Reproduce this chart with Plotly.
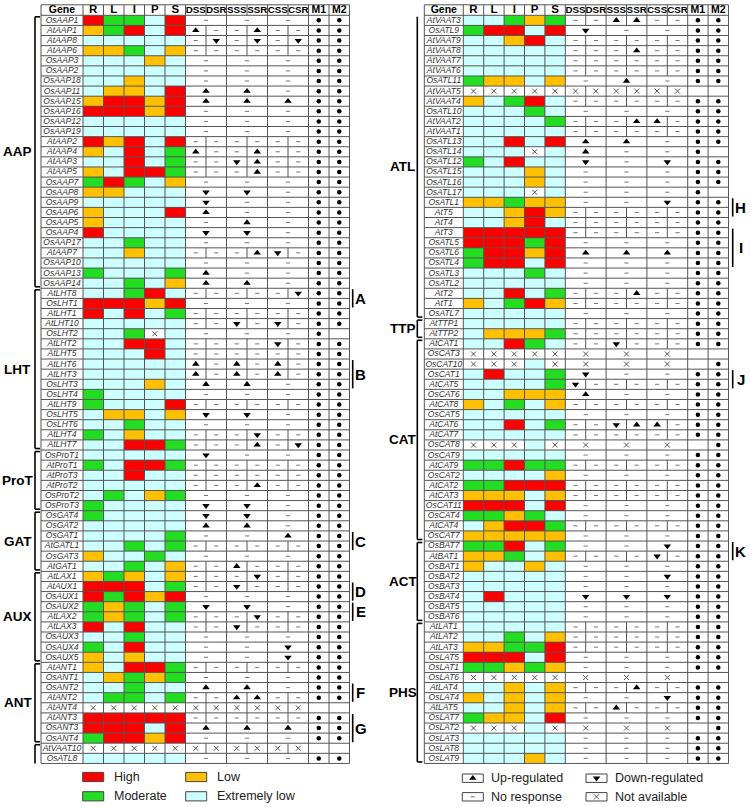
import plotly.graph_objects as go

# ------------------------------------------------------------------ data
columns = ["R", "L", "I", "P", "S", "DSS", "DSR", "SSS", "SSR", "CSS", "CSR", "M1", "M2"]

left_genes = [
    "OsAAP1", "AtAAP1", "AtAAP8", "AtAAP6", "OsAAP3", "OsAAP2", "OsAAP18", "OsAAP11", "OsAAP15",
    "OsAAP16", "OsAAP12", "OsAAP19", "AtAAP2", "AtAAP4", "AtAAP3", "AtAAP5", "OsAAP7", "OsAAP8",
    "OsAAP9", "OsAAP6", "OsAAP5", "OsAAP4", "OsAAP17", "AtAAP7", "OsAAP10", "OsAAP13", "OsAAP14",
    "AtLHT8", "OsLHT1", "AtLHT1", "AtLHT10", "OsLHT2", "AtLHT2", "AtLHT5", "AtLHT6", "AtLHT3",
    "OsLHT3", "OsLHT4", "AtLHT9", "OsLHT5", "OsLHT6", "AtLHT4", "AtLHT7",
    "OsProT1", "AtProT1", "AtProT3", "AtProT2", "OsProT2", "OsProT3",
    "OsGAT4", "OsGAT2", "OsGAT1", "AtGATL1", "OsGAT3", "AtGAT1",
    "AtLAX1", "AtAUX1", "OsAUX1", "OsAUX2", "AtLAX2", "AtLAX3", "OsAUX3", "OsAUX4", "OsAUX5",
    "AtANT1", "OsANT1", "OsANT2", "AtANT2", "AtANT4", "AtANT3", "OsANT3", "OsANT4",
    "AtVAAT10", "OsATL8"]
# expression in R, L, I, P, S  (H high, M moderate, L low, E extremely low, X not available)
left_expr = [
    "HMMEH", "LMHEH", "EEEEE", "LLMEL", "EEELE", "EEEEE", "EELEE", "ELLEH", "LHHLH",
    "HHHLH", "EEEEE", "EEEEE", "HLHEH", "LEHEM", "EEHEM", "LEHHM", "MHMEL", "LLEEE",
    "EEEEE", "LEEEH", "LEEEE", "HEEEE", "EEMEE", "EELEE", "EEEEE", "MEEEM", "EEMEL",
    "EEMHE", "HHHLH", "HEHEM", "EEEEE", "EEMXE", "EEHHE", "EEEHE", "EEEEE", "EEEEE",
    "EEELE", "MEEEE", "MEEEH", "ELLEL", "EEMEE", "MELEE", "EEHHM",
    "EEEEE", "MEHHM", "EEHEE", "EEEEE", "EMELM", "MEEEE",
    "MEEEE", "EEEEE", "EEEEM", "EEMEM", "LEEME", "EEMEL",
    "LMLEL", "HHHEM", "HMHLH", "MLMEM", "MLMEM", "HEHEE", "EEMEE", "MEHEE", "LELEE",
    "LEHHM", "ELMLM", "EEMEE", "EMMEM", "XXXXX", "HHHHH", "HHHEH", "MHHLH",
    "XXXXX", "EEEEE"]
# stress response (u up, d down, n none, x n/a); 3 values = merged rice cells, 6 = Arabidopsis
left_stress = [
    "nnn", "unnunn", "ndndnd", "nnnnnn", "nnn", "nnn", "nnn", "uun", "uuu",
    "nnn", "nnn", "nnn", "nnnnnn", "unnunn", "nndunn", "nnnunn", "nnn", "ddn",
    "dnn", "unn", "nun", "ddn", "nnn", "nnnudn", "nnn", "unn", "uun",
    "nnnnnd", "nnn", "nnnnnn", "nndndn", "nnn", "nnnndn", "nnnnnn", "ununun", "ununun",
    "uun", "nnn", "nnnnnn", "ddn", "nnn", "nnndnn", "nnnund",
    "dnn", "nnnnnn", "nnnnnn", "nnnunn", "nnn", "ddn",
    "ddn", "uun", "nnu", "nnnnnn", "nnn", "nnunnn",
    "nnndnn", "nndnnn", "nnn", "ddn", "nnndnn", "nndnnn", "nnn", "nnd", "nnd",
    "nnnnnn", "nnn", "uun", "nnuunn", "xxxxxx", "nnnnnn", "uuu", "nnn",
    "xxxxxx", "nnn"]
left_motif = {"OsLHT2": "10", "AtANT4": "00", "AtVAAT10": "00"}   # others "11"
left_group_names = ["AAP", "LHT", "ProT", "GAT", "AUX", "ANT", ""]
left_group_sizes = [27, 16, 6, 6, 9, 8, 2]
left_marks = [("A", "AtLHT8", 2), ("B", "AtLHT6", 3), ("C", "OsGAT1", 2), ("D", "AtAUX1", 2),
              ("E", "OsAUX2", 2), ("F", "OsANT2", 2), ("G", "AtANT3", 3)]

right_genes = [
    "AtVAAT3", "OsATL9", "AtVAAT9", "AtVAAT8", "AtVAAT7", "AtVAAT6", "OsATL11", "AtVAAT5",
    "AtVAAT4", "OsATL10", "AtVAAT2", "AtVAAT1", "OsATL13", "OsATL14", "OsATL12", "OsATL15",
    "OsATL16", "OsATL17", "OsATL1", "AtT5", "AtT4", "AtT3", "OsATL5", "OsATL6", "OsATL4",
    "OsATL3", "OsATL2", "AtT2", "AtT1", "OsATL7",
    "AtTTP1", "AtTTP2",
    "AtCAT1", "OsCAT3", "OsCAT10", "OsCAT1", "AtCAT5", "OsCAT6", "AtCAT8", "OsCAT5", "AtCAT6",
    "AtCAT7", "OsCAT8", "OsCAT9", "AtCAT9", "OsCAT2", "AtCAT2", "AtCAT3", "OsCAT11", "OsCAT4",
    "AtCAT4", "OsCAT7",
    "OsBAT7", "AtBAT1", "OsBAT1", "OsBAT2", "OsBAT3", "OsBAT4", "OsBAT5", "OsBAT6",
    "AtLAT1", "AtLAT2", "AtLAT3", "OsLAT5", "OsLAT1", "OsLAT6", "AtLAT4", "OsLAT4", "AtLAT5",
    "OsLAT7", "OsLAT2", "OsLAT3", "OsLAT8", "OsLAT9"]
right_expr = [
    "EEMLM", "MHHEH", "EELHE", "EEEEE", "EEEEE", "EEEEE", "MLLEL", "XXXXX",
    "LEMHE", "EEEME", "EEEEM", "EEEEE", "EEHEH", "EEEXE", "MEHEE", "EEELE",
    "EEELE", "EEEXE", "LLMLL", "EELHL", "EELHE", "HHHHH", "HHHMH", "MHHLH", "MHHEH",
    "EEEME", "EEEEE", "EEHEM", "LEMHL", "EEEEE",
    "EEEEE", "ELLLM",
    "EEHME", "XXXXX", "XXXEX", "EHEEM", "EEEEM", "EELLL", "LEMEL", "EEEEE", "EEHEM",
    "EEEEE", "XXXEX", "EEEEE", "MMHMM", "EEEEL", "MMHHH", "LLLEL", "HHHEH", "MMLME",
    "ELHHM", "LLLLL",
    "MMHEM", "LLMEL", "LEELE", "EEEEE", "EEEEE", "EHEEE", "EEEEE", "EEEEE",
    "EEEEE", "EEMEL", "LLMMH", "HHHEH", "MMLML", "XXXXX", "EELEL", "LELEL", "EELEL",
    "MLLEH", "XXXEX", "EEEEE", "EEEEE", "EEELE"]
right_stress = [
    "nnuunn", "dnn", "nnnnnn", "nnnunn", "nnnnnn", "nnnnnn", "nun", "xxxxxx",
    "nnnnnn", "nnn", "nnnuun", "nnnnnn", "uun", "unn", "dnd", "nnn",
    "nnn", "nnn", "nnd", "nnnnnn", "nnnnnn", "nnnnnn", "nnn", "uuu", "nnn",
    "nnn", "nnn", "nnnunn", "nnnnnn", "nnn",
    "nnnnnn", "nnnnnn",
    "nndnnn", "xxx", "xxx", "dnn", "dnnnnn", "unn", "nnnnnn", "nnn", "nnduun",
    "nnnnnn", "xxx", "nnn", "nnnnnn", "nnn", "nnnnnn", "nnnnnn", "nnn", "nnn",
    "nnnnnn", "nnn",
    "nnd", "nnnndn", "nnn", "nnd", "nnn", "ddd", "nnn", "nnn",
    "nnnnnn", "nnnnnn", "nnnnnn", "nnn", "nnn", "xxx", "nnnunn", "nnd", "nnunnn",
    "nnn", "xxx", "nnn", "nnn", "nnn"]
right_motif = {"AtVAAT5": "00", "OsATL14": "10", "OsATL17": "10", "OsCAT3": "00",
               "OsCAT10": "01", "OsCAT8": "01", "OsLAT6": "00", "OsLAT2": "01"}
right_group_names = ["ATL", "TTP", "CAT", "ACT", "PHS"]
right_group_sizes = [30, 2, 20, 8, 14]
right_marks = [("H", "OsATL1", 2), ("I", "AtT3", 4), ("J", "OsCAT1", 2), ("K", "OsBAT7", 2)]

level_names = ["High", "Moderate", "Low", "Extremely low"]
response_names = ["Up-regulated", "Down-regulated", "No response", "Not available"]

# ------------------------------------------------------------------ style / layout
FONT = "Liberation Sans, Arial, sans-serif"
C_E, C_L, C_M, C_H, C_X = "#CCFFFF", "#FFC000", "#22DD22", "#FF0000", "#FFFFFF"
CODE = {"E": 0, "L": 1, "M": 2, "H": 3, "X": 4}
CSCALE = [[0, C_E], [0.2, C_E], [0.2, C_L], [0.4, C_L], [0.4, C_M], [0.6, C_M],
          [0.6, C_H], [0.8, C_H], [0.8, C_X], [1, C_X]]
GRID = "#555555"
TOP, HDR, RH = 4.8, 10.5, 10.11


def row_top(i):
    return TOP + HDR + i * RH


panels = [
    dict(genes=left_genes, expr=left_expr, stress=left_stress, motif=left_motif,
         gnames=left_group_names, gsizes=left_group_sizes, marks=left_marks,
         x0=41.0, gw=42.0, cw=20.5, brx=35.0, labx=17.5, barx=352.7,
         open_top_first=False, open_bottom_last=True),
    dict(genes=right_genes, expr=right_expr, stress=right_stress, motif=right_motif,
         gnames=right_group_names, gsizes=right_group_sizes, marks=right_marks,
         x0=424.3, gw=39.0, cw=20.4, brx=417.3, labx=402.5, barx=732.7,
         open_top_first=True, open_bottom_last=False),
]

fig = go.Figure()
gx, gy = [], []          # thin grid
bx, by = [], []          # thick black brackets / bars
sym = {k: ([], []) for k in ["u", "d", "n", "x", "dot"]}
annotations = []


def seg(lx, ly, x1, y1, x2, y2):
    lx.extend([x1, x2, None])
    ly.extend([y1, y2, None])


for p in panels:
    genes, n = p["genes"], len(p["genes"])
    assert len(p["expr"]) == n and len(p["stress"]) == n and sum(p["gsizes"]) == n
    x0, gw, cw = p["x0"], p["gw"], p["cw"]
    xe = [x0 + gw + k * cw for k in range(len(columns) + 1)]
    xend, ybot = xe[-1], row_top(n)
    yc = [row_top(i) + RH / 2 for i in range(n)]

    # expression cells
    z = [[CODE[c] for c in e] for e in p["expr"]]
    fig.add_trace(go.Heatmap(x=xe[:6], y=[row_top(i) for i in range(n + 1)], z=z,
                             colorscale=CSCALE, zmin=-0.5, zmax=4.5, showscale=False,
                             hoverinfo="skip"))
    for i, e in enumerate(p["expr"]):
        for k, c in enumerate(e):
            if c == "X":
                sym["x"][0].append(xe[k] + cw / 2)
                sym["x"][1].append(yc[i])

    # grid
    seg(gx, gy, x0, TOP, xend, TOP)
    for i in range(n + 1):
        seg(gx, gy, x0, row_top(i), xend, row_top(i))
    for xv in [x0] + [xe[k] for k in (0, 1, 2, 3, 4, 5, 7, 9, 11, 12, 13)]:
        seg(gx, gy, xv, TOP, xv, ybot)
    for k in (6, 8, 10):
        seg(gx, gy, xe[k], TOP, xe[k], TOP + HDR)
        for i, s in enumerate(p["stress"]):
            if len(s) == 6:
                seg(gx, gy, xe[k], row_top(i), xe[k], row_top(i + 1))

    # stress symbols and motif dots
    for i, s in enumerate(p["stress"]):
        if len(s) == 3:
            xs = [xe[6], xe[8], xe[10]]
        else:
            xs = [xe[5 + j] + cw / 2 for j in range(6)]
        for xv, c in zip(xs, s):
            sym[c][0].append(xv)
            sym[c][1].append(yc[i])
        m = p["motif"].get(genes[i], "11")
        for j, c in enumerate(m):
            if c == "1":
                sym["dot"][0].append(xe[11 + j] + cw / 2)
                sym["dot"][1].append(yc[i])

    # header + gene names
    hdr_sizes = [10.5, 11.5, 11.5, 11.5, 11.5, 11.5, 9.8, 9.8, 9.8, 9.8, 9.8, 9.8, 10.5, 10.5]
    fig.add_trace(go.Scatter(
        x=[x0 + gw / 2] + [xe[k] + cw / 2 for k in range(len(columns))],
        y=[TOP + HDR / 2 + 0.5] * (len(columns) + 1),
        text=["<b>Gene</b>"] + ["<b>%s</b>" % c for c in columns], mode="text",
        textfont=dict(family=FONT, size=hdr_sizes, color="#000"), hoverinfo="skip"))
    fig.add_trace(go.Scatter(
        x=[x0 + gw / 2] * n, y=[v + 0.3 for v in yc], text=["<i>%s</i>" % g for g in genes],
        mode="text", textfont=dict(family=FONT, size=8.5, color="#333"), hoverinfo="skip"))

    # group brackets
    start = 0
    ng = len(p["gsizes"])
    for gi, (name, size) in enumerate(zip(p["gnames"], p["gsizes"])):
        t, b = row_top(start) + 1.5, row_top(start + size) - 1.5
        brx = p["brx"]
        if gi == ng - 1 and p["open_bottom_last"]:
            b = row_top(start + size)
        else:
            seg(bx, by, brx, b, brx + 5, b)
        if not (gi == 0 and p["open_top_first"]):
            seg(bx, by, brx, t, brx + 5, t)
        seg(bx, by, brx, t, brx, b)
        if name:
            annotations.append(dict(x=p["labx"], y=(t + b) / 2, text="<b>%s</b>" % name,
                                    showarrow=False, font=dict(family=FONT, size=13.5, color="#000"),
                                    xanchor="center", yanchor="middle"))
        start += size

    # letter marks
    for letter, g, size in p["marks"]:
        i = genes.index(g)
        t, b = row_top(i) + 1, row_top(i + size) - 1
        seg(bx, by, p["barx"], t, p["barx"], b)
        annotations.append(dict(x=p["barx"] + 8, y=(t + b) / 2, text="<b>%s</b>" % letter,
                                showarrow=False, font=dict(family=FONT, size=15, color="#000"),
                                xanchor="center", yanchor="middle"))

# ------------------------------------------------------------------ legend
LEG_Y = [777.0, 796.3]
LEG_BW, LEG_BH = 21.0, 9.2
leg_colors = [C_H, C_M, C_L, C_E]
leg_pos = [(82.7, LEG_Y[0]), (82.7, LEG_Y[1]), (185.7, LEG_Y[0]), (185.7, LEG_Y[1])]
shapes = []
for (lx, ly), col, name in zip(leg_pos, leg_colors, level_names):
    shapes.append(dict(type="rect", x0=lx, x1=lx + LEG_BW, y0=ly - LEG_BH / 2, y1=ly + LEG_BH / 2,
                       fillcolor=col, line=dict(color="#444", width=1)))
    annotations.append(dict(x=lx + 29, y=ly, text=name, showarrow=False, xanchor="left",
                            yanchor="middle", font=dict(family=FONT, size=12.5, color="#222")))
resp_pos = [(462.3, 778.2), (586.0, 778.2), (462.3, 796.8), (586.0, 796.8)]
resp_keys = ["u", "d", "n", "x"]
for (lx, ly), key, name in zip(resp_pos, resp_keys, response_names):
    shapes.append(dict(type="rect", x0=lx, x1=lx + 21, y0=ly - 4.2, y1=ly + 4.2, layer="below",
                       fillcolor="rgba(0,0,0,0)", line=dict(color="#444", width=1)))
    sym[key][0].append(lx + 10.5)
    sym[key][1].append(ly)
    annotations.append(dict(x=lx + 26.5, y=ly, text=name, showarrow=False, xanchor="left",
                            yanchor="middle", font=dict(family=FONT, size=12.5, color="#222")))

# ------------------------------------------------------------------ traces for lines & symbols
fig.add_trace(go.Scatter(x=gx, y=gy, mode="lines", line=dict(color=GRID, width=1),
                         hoverinfo="skip"))
fig.add_trace(go.Scatter(x=bx, y=by, mode="lines", line=dict(color="#000", width=1.6),
                         hoverinfo="skip"))
marker_styles = {
    "u": dict(symbol="triangle-up", size=6.5, color="#000"),
    "d": dict(symbol="triangle-down", size=6.5, color="#000"),
    "n": dict(symbol="line-ew", size=3, color="#777", line=dict(color="#777", width=1)),
    "x": dict(symbol="x-thin", size=5, color="#555", line=dict(color="#555", width=1)),
    "dot": dict(symbol="circle", size=4.5, color="#000"),
}
for key, (xs, ys) in sym.items():
    fig.add_trace(go.Scatter(x=xs, y=ys, mode="markers", marker=marker_styles[key],
                             hoverinfo="skip"))

fig.update_layout(
    width=750, height=807, margin=dict(l=0, r=0, t=0, b=0),
    paper_bgcolor="#FFFFFF", plot_bgcolor="#FFFFFF", showlegend=False,
    xaxis=dict(range=[0, 750], visible=False, fixedrange=True),
    yaxis=dict(range=[807, 0], visible=False, fixedrange=True),
    shapes=shapes, annotations=annotations,
)
fig.write_html("out.html", config={"displayModeBar": False},
               post_script="document.body.style.margin='0';document.body.style.overflow='hidden';")
